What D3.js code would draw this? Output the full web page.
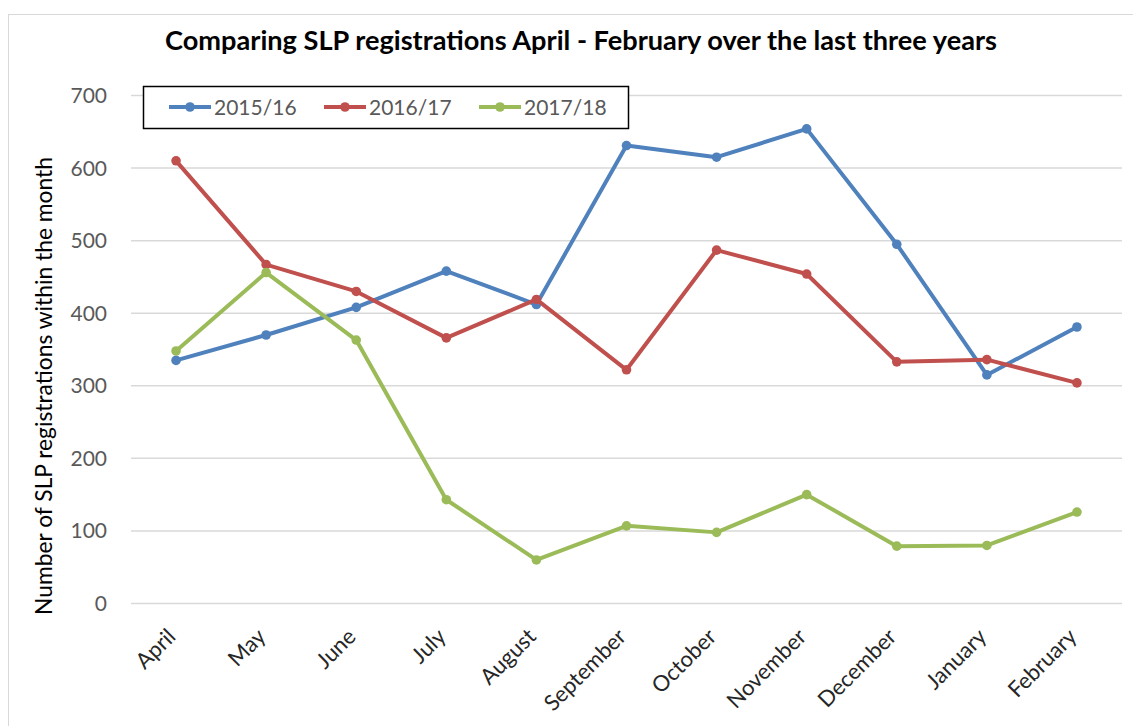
<!DOCTYPE html>
<html>
<head>
<meta charset="utf-8">
<script src="https://cdn.jsdelivr.net/npm/d3@7"></script>
<style>
  html, body { margin: 0; padding: 0; background: #fff; }
  svg { display: block; font-family: Lato, "Open Sans", sans-serif; }
</style>
</head>
<body>
<div id="chart"></div>
<script>
const months = ["April", "May", "June", "July", "August", "September", "October", "November", "December", "January", "February"];
const seriesNames = ["2015/16", "2016/17", "2017/18"];
const values1516 = [335, 370, 408, 458, 412, 631, 615, 654, 495, 315, 381];
const values1617 = [610, 467, 430, 366, 419, 322, 487, 454, 333, 336, 304];
const values1718 = [348, 456, 363, 143, 60, 107, 98, 150, 79, 80, 126];
const yTicks = [0, 100, 200, 300, 400, 500, 600, 700];
const colors = ["#4f81bd", "#c0504d", "#9bbb59"];

const series = seriesNames.map((name, i) => ({
  name,
  color: colors[i],
  values: [values1516, values1617, values1718][i].map((v, j) => ({ month: months[j], v }))
}));

const width = 1133, height = 726;
const plot = { left: 131, right: 1122, top: 95.5, bottom: 603.5 };

const svg = d3.select("#chart").append("svg")
  .attr("width", width).attr("height", height);

// outer chart border
svg.append("rect")
  .attr("x", 8.5).attr("y", 14.5)
  .attr("width", 1200).attr("height", 800)
  .attr("fill", "none").attr("stroke", "#d9d9d9").attr("stroke-width", 1);

const x = d3.scalePoint().domain(months).range([plot.left, plot.right]).padding(0.5);
const y = d3.scaleLinear().domain([0, 700]).range([plot.bottom, plot.top]);

// gridlines
svg.append("g").selectAll("line")
  .data(yTicks).enter().append("line")
  .attr("x1", plot.left).attr("x2", plot.right)
  .attr("y1", d => y(d)).attr("y2", d => y(d))
  .attr("stroke", "#d9d9d9").attr("stroke-width", 1.5);

// y tick labels
svg.append("g").selectAll("text")
  .data(yTicks).enter().append("text")
  .attr("x", 107).attr("y", d => y(d))
  .attr("dy", "0.36em")
  .attr("text-anchor", "end")
  .style("font-size", "21px").style("fill", "#595959")
  .text(d => d);

// x tick labels
svg.append("g").selectAll("text")
  .data(months).enter().append("text")
  .attr("transform", d => `translate(${x(d) + 1},${638}) rotate(-45)`)
  .attr("text-anchor", "end")
  .style("font-size", "22px").style("fill", "#262626")
  .text(d => d);

// title, fitted to the original width
const title = svg.append("text")
  .attr("x", 581).attr("y", 50)
  .attr("text-anchor", "middle")
  .style("font-weight", "bold").style("font-size", "24px").style("fill", "#000")
  .text("Comparing SLP registrations April - February over the last three years");
const tw = title.node().getComputedTextLength();
title.style("font-size", (24 * 832 / tw).toFixed(2) + "px");

// y axis title
const ytitle = svg.append("text")
  .attr("transform", `translate(52,386) rotate(-90)`)
  .attr("text-anchor", "middle")
  .style("font-size", "21px").style("fill", "#000")
  .text("Number of SLP registrations within the month");
const yw = ytitle.node().getComputedTextLength();
ytitle.style("font-size", (21 * 458 / yw).toFixed(2) + "px");

// lines + markers
const line = d3.line().x(d => x(d.month)).y(d => y(d.v));
const g = svg.append("g");
series.forEach(s => {
  g.append("path")
    .datum(s.values)
    .attr("d", line)
    .attr("fill", "none")
    .attr("stroke", s.color)
    .attr("stroke-width", 4)
    .attr("stroke-linejoin", "round");
  g.selectAll(null)
    .data(s.values).enter().append("circle")
    .attr("cx", d => x(d.month)).attr("cy", d => y(d.v))
    .attr("r", 4.8)
    .attr("fill", s.color);
});

// legend
const legend = svg.append("g");
legend.append("rect")
  .attr("x", 143.5).attr("y", 86.5)
  .attr("width", 485).attr("height", 42)
  .attr("fill", "#fff").attr("stroke", "#000").attr("stroke-width", 1.5);
const legendX = [169, 324, 479];
series.forEach((s, i) => {
  const lx = legendX[i];
  legend.append("line")
    .attr("x1", lx).attr("x2", lx + 42)
    .attr("y1", 107).attr("y2", 107)
    .attr("stroke", s.color).attr("stroke-width", 4);
  legend.append("circle")
    .attr("cx", lx + 21).attr("cy", 107).attr("r", 4.8)
    .attr("fill", s.color);
  legend.append("text")
    .attr("x", lx + 45).attr("y", 107).attr("dy", "0.36em")
    .style("font-size", "21px").style("fill", "#595959")
    .text(s.name);
});
</script>
</body>
</html>
